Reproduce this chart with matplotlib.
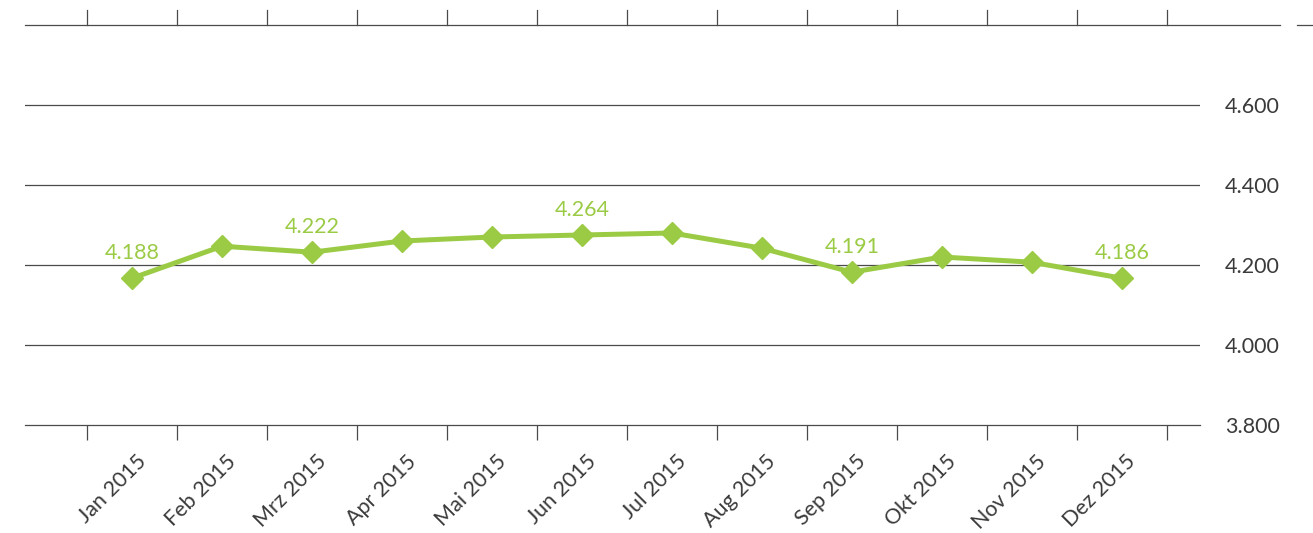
import numpy as np
import matplotlib
matplotlib.use("Agg")
import matplotlib.pyplot as plt
import matplotlib.transforms as mtransforms
from matplotlib.lines import Line2D

months = ["Jan 2015", "Feb 2015", "Mrz 2015", "Apr 2015", "Mai 2015", "Jun 2015",
          "Jul 2015", "Aug 2015", "Sep 2015", "Okt 2015", "Nov 2015", "Dez 2015"]
values = [4167, 4247, 4232, 4260, 4270, 4275, 4280, 4242, 4182, 4220, 4207, 4167]
label_idx = [0, 2, 5, 8, 11]
label_text = ["4.188", "4.222", "4.264", "4.191", "4.186"]
yticks = [3800, 4000, 4200, 4400, 4600]
ytick_labels = ["3.800", "4.000", "4.200", "4.400", "4.600"]

green = "#9bcb45"
grid = "#4a4a4a"
txt = "#3a3a3a"
plt.rcParams["font.family"] = ["Lato", "DejaVu Sans"]

W, H = 1313, 533
fig = plt.figure(figsize=(W / 100, H / 100), dpi=100)
ax = fig.add_axes([25 / W, 1 - 425 / H, 1175 / W, 400 / H])

x = np.arange(len(months))
ax.plot(x, values, color=green, lw=3.6, marker="D", ms=11.5, zorder=3)
for i, t in zip(label_idx, label_text):
    ax.annotate(t, (x[i], values[i]), xytext=(0, 11), textcoords="offset points",
                ha="center", va="bottom", color=green, fontsize=15.5)

ax.set_xlim(-1.19, 11.87)
ax.set_ylim(3800, 4800)
for v in yticks[1:]:
    ax.axhline(v, color=grid, lw=0.9, zorder=1)

for s in ["left", "right", "top"]:
    ax.spines[s].set_visible(False)
ax.spines["bottom"].set_color(grid)
ax.spines["bottom"].set_linewidth(0.9)

# top line with upward ticks, longer than the plot area, plus small dash
ytop = 1 - 25 / H
fig.add_artist(Line2D([25 / W, 1280 / W], [ytop, ytop], color=grid, lw=0.9))
fig.add_artist(Line2D([1297 / W, 1313 / W], [ytop, ytop], color=grid, lw=0.9))
bounds = np.arange(-1, 12) + 0.5
for b in bounds:
    ax.plot([b, b], [1, 1 + 15 / 400], color=grid, lw=0.9,
            transform=ax.get_xaxis_transform(), clip_on=False)

ax.set_xticks(bounds, minor=True)
ax.tick_params(axis="x", which="minor", direction="out", length=11, width=0.9, color=grid)
ax.set_xticks(x)
ax.set_xticklabels(months, rotation=45, ha="right", va="center",
                   rotation_mode="anchor", fontsize=15.5, color=txt)
ax.tick_params(axis="x", which="major", length=0, pad=24)
off = mtransforms.ScaledTranslation(11 / 100, 0, fig.dpi_scale_trans)
for lab in ax.get_xticklabels():
    lab.set_transform(lab.get_transform() + off)

ax.yaxis.tick_right()
ax.set_yticks(yticks)
ax.set_yticklabels(ytick_labels, fontsize=15.5, color=txt)
ax.tick_params(axis="y", length=0, pad=18)

fig.savefig("out.png", dpi=100)
